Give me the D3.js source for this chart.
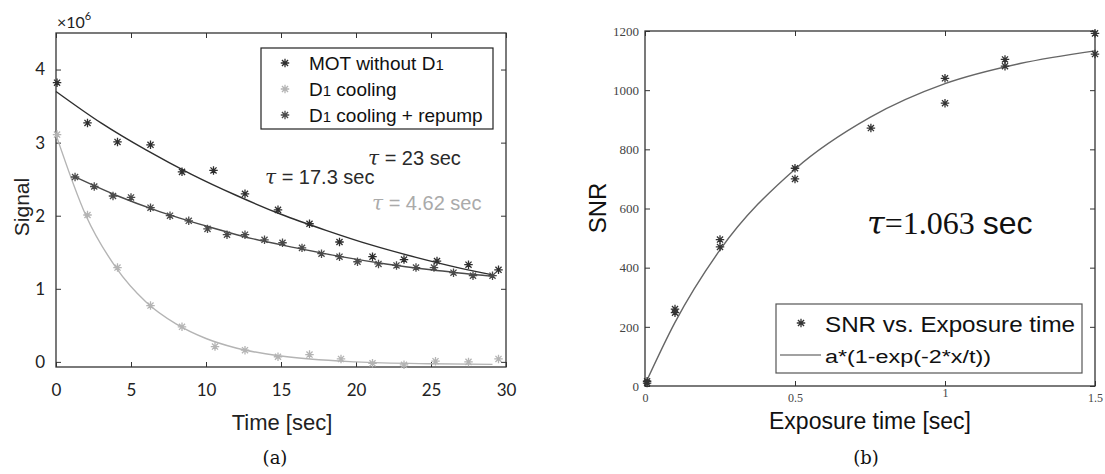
<!DOCTYPE html>
<html>
<head>
<meta charset="utf-8">
<script src="https://cdn.jsdelivr.net/npm/d3@7"></script>
<style>
body { margin: 0; background: #fff; }
</style>
</head>
<body>
<svg width="1105" height="474"></svg>
<script>
// ---------- panel (a): signal (x1e6) vs time ----------
const motT   = [0.07, 2.1, 4.1, 6.3, 8.4, 10.5, 12.6, 14.8, 16.9, 18.9, 21.1, 23.2, 25.4, 27.5, 29.5];
const motS   = [3.82, 3.27, 3.01, 2.97, 2.60, 2.62, 2.30, 2.08, 1.89, 1.64, 1.44, 1.40, 1.38, 1.33, 1.26];
const d1T    = [0.07, 2.1, 4.1, 6.3, 8.4, 10.6, 12.6, 14.8, 16.9, 19.0, 21.1, 23.2, 25.3, 27.5, 29.5];
const d1S    = [3.11, 2.01, 1.29, 0.77, 0.48, 0.21, 0.16, 0.07, 0.10, 0.04, -0.02, -0.04, 0.01, 0.0, 0.04];
const repT   = [1.27, 2.55, 3.8, 5.0, 6.3, 7.6, 8.85, 10.1, 11.4, 12.6, 13.9, 15.1, 16.4, 17.7, 18.9, 20.1, 21.5, 22.7, 24.0, 25.2, 26.5, 27.8, 29.1];
const repS   = [2.53, 2.40, 2.27, 2.25, 2.11, 2.00, 1.93, 1.82, 1.74, 1.74, 1.67, 1.63, 1.56, 1.48, 1.44, 1.37, 1.34, 1.32, 1.29, 1.29, 1.22, 1.18, 1.18];

// fitted curves
const motFitT = [0, 3, 6, 9, 12, 15, 18, 21, 24, 27, 29.1];
const motFitS = [3.70, 3.27, 2.90, 2.57, 2.28, 2.02, 1.80, 1.60, 1.43, 1.28, 1.19];
const d1FitT  = [0, 2, 4, 6, 8, 10, 12, 15, 20, 25, 29.1];
const d1FitS  = [3.11, 2.00, 1.29, 0.82, 0.52, 0.32, 0.19, 0.08, 0.0, -0.026, -0.034];
const repFitT = [1.27, 4, 7, 10, 13, 16, 19, 22, 25, 29.1];
const repFitS = [2.53, 2.28, 2.05, 1.86, 1.69, 1.56, 1.44, 1.34, 1.26, 1.17];

const aXTicks = [0, 5, 10, 15, 20, 25, 30];
const aYTicks = [0, 1, 2, 3, 4];
const aSeries = ["MOT without D1", "D1 cooling", "D1 cooling + repump"];
const aTau    = ["23", "17.3", "4.62"];

// ---------- panel (b): SNR vs exposure time ----------
const snrX = [0.007, 0.007, 0.1, 0.1, 0.25, 0.25, 0.5, 0.5, 0.753, 1.0, 1.0, 1.2, 1.2, 1.5, 1.5];
const snrY = [10, 16, 260, 248, 495, 470, 736, 700, 872, 1040, 956, 1104, 1081, 1192, 1122];
const fitX = [0, 0.1, 0.25, 0.5, 0.75, 1.0, 1.25, 1.5];
const fitY = [5, 215, 460, 733, 908, 1022, 1090, 1133];
const bXTicks = [0, 0.5, 1, 1.5];
const bYTicks = [0, 200, 400, 600, 800, 1000, 1200];

const svg = d3.select("svg");
const sans = "'Liberation Sans', Arial, sans-serif";
const tickFont = "Lato, 'Open Sans', sans-serif";
const serif = "'DejaVu Serif', 'Liberation Serif', serif";

// MATLAB-like 8-point asterisk
const star = {
  draw(ctx, size) {
    const r = Math.sqrt(size) / 2, d = r * 0.72;
    ctx.moveTo(-r, 0); ctx.lineTo(r, 0);
    ctx.moveTo(0, -r); ctx.lineTo(0, r);
    ctx.moveTo(-d, -d); ctx.lineTo(d, d);
    ctx.moveTo(-d, d); ctx.lineTo(d, -d);
  }
};
const starPath = d3.symbol().type(star).size(72)();

// ================= panel (a) =================
const xa = d3.scaleLinear().domain([0, 30]).range([56, 506]);
const ya = d3.scaleLinear().domain([-0.07, 4.5]).range([367, 33]);
const ga = svg.append("g");

const styleAxis = (sel, font, size, color) => {
  sel.select(".domain").remove();
  sel.selectAll("line").attr("stroke", "#333");
  sel.selectAll("text").attr("font-family", font).attr("font-size", size).attr("fill", color);
};

ga.append("g").attr("transform", `translate(0,${ya.range()[0]})`)
  .call(d3.axisBottom(xa).tickValues(aXTicks).tickSize(-5).tickPadding(17).tickFormat(d3.format("d")))
  .call(styleAxis, tickFont, 17, "#222");
ga.append("g").attr("transform", `translate(0,${ya.range()[1]})`)
  .call(d3.axisTop(xa).tickValues(aXTicks).tickSize(-5).tickFormat(""))
  .call(styleAxis, tickFont, 17, "#222");
ga.append("g").attr("transform", `translate(${xa.range()[0]},0)`)
  .call(d3.axisLeft(ya).tickValues(aYTicks).tickSize(-5).tickPadding(11).tickFormat(d3.format("d")))
  .call(styleAxis, tickFont, 17, "#222");
ga.append("g").attr("transform", `translate(${xa.range()[1]},0)`)
  .call(d3.axisRight(ya).tickValues(aYTicks).tickSize(-5).tickFormat(""))
  .call(styleAxis, tickFont, 17, "#222");

ga.append("rect")
  .attr("x", xa.range()[0]).attr("y", ya.range()[1])
  .attr("width", xa.range()[1] - xa.range()[0]).attr("height", ya.range()[0] - ya.range()[1])
  .attr("fill", "none").attr("stroke", "#333").attr("stroke-width", 1.3);

const aColors = ["#2e2e2e", "#b4b4b4", "#4a4a4a"];
const lineA = d3.line().x((d) => xa(d[0])).y((d) => ya(d[1])).curve(d3.curveMonotoneX);

const fitsA = [d3.zip(motFitT, motFitS), d3.zip(d1FitT, d1FitS), d3.zip(repFitT, repFitS)];
const ptsA  = [d3.zip(motT, motS), d3.zip(d1T, d1S), d3.zip(repT, repS)];

fitsA.forEach((f, i) => {
  ga.append("path").attr("d", lineA(f))
    .attr("fill", "none").attr("stroke", aColors[i]).attr("stroke-width", 1.4);
});
ptsA.forEach((p, i) => {
  ga.append("g").selectAll("path").data(p).enter().append("path")
    .attr("d", starPath)
    .attr("transform", (d) => `translate(${xa(d[0])},${ya(d[1])})`)
    .attr("fill", "none").attr("stroke", aColors[i]).attr("stroke-width", 1.3);
});

// x10^6 exponent
const ex = ga.append("text").attr("x", 57).attr("y", 28)
  .attr("font-family", tickFont).attr("font-size", 16).attr("fill", "#222");
ex.append("tspan").text("\u00d710");
ex.append("tspan").attr("dy", -8).attr("font-size", 11).text("6");

// legend (a)
const legA = ga.append("g");
legA.append("rect").attr("x", 261).attr("y", 48).attr("width", 232).attr("height", 81)
  .attr("fill", "#fff").attr("stroke", "#222").attr("stroke-width", 1.2);
aSeries.forEach((name, i) => {
  const y = 63 + i * 26;
  legA.append("path").attr("d", starPath).attr("transform", `translate(285,${y})`)
    .attr("fill", "none").attr("stroke", aColors[i]).attr("stroke-width", 1.3);
  const t = legA.append("text").attr("x", 309).attr("y", y + 7)
    .attr("font-family", sans).attr("font-size", 19).attr("fill", "#111");
  const parts = name.split("D1");
  parts.forEach((p, k) => {
    if (k > 0) {
      t.append("tspan").text("D");
      t.append("tspan").attr("font-size", 15).text("1");
    }
    t.append("tspan").text(p);
  });
});

// tau labels
const tauPos = [[368, 165, "#2a2a2a"], [265, 184, "#2a2a2a"], [372, 210, "#aaaaaa"]];
aTau.forEach((v, i) => {
  const t = ga.append("text").attr("x", tauPos[i][0]).attr("y", tauPos[i][1])
    .attr("font-family", sans).attr("font-size", 20).attr("fill", tauPos[i][2]);
  t.append("tspan").attr("font-family", serif).attr("font-style", "italic").text("\u03c4");
  t.append("tspan").text(` = ${v} sec`);
});

ga.append("text").attr("transform", "translate(29,207) rotate(-90)")
  .attr("text-anchor", "middle").attr("font-family", sans).attr("font-size", 21)
  .attr("fill", "#222").text("Signal");
ga.append("text").attr("x", 282).attr("y", 430).attr("text-anchor", "middle")
  .attr("font-family", sans).attr("font-size", 22).attr("fill", "#222").text("Time [sec]");
ga.append("text").attr("x", 275).attr("y", 464).attr("text-anchor", "middle")
  .attr("font-family", serif).attr("font-size", 18).attr("fill", "#111").text("(a)");

// ================= panel (b) =================
const xb = d3.scaleLinear().domain([0, 1.5]).range([645, 1095]);
const yb = d3.scaleLinear().domain([0, 1200]).range([386, 31]);
const gb = svg.append("g");
const bTickFont = "'Liberation Serif', serif";

gb.append("g").attr("transform", `translate(0,${yb.range()[0]})`)
  .call(d3.axisBottom(xb).tickValues(bXTicks).tickSize(-5).tickPadding(7).tickFormat(d3.format("")))
  .call(styleAxis, bTickFont, 12, "#444")
  .selectAll(".tick").filter((d) => d === 1).select("text").attr("dy", "0.3em");
gb.append("g").attr("transform", `translate(0,${yb.range()[1]})`)
  .call(d3.axisTop(xb).tickValues(bXTicks).tickSize(-5).tickFormat(""))
  .call(styleAxis, bTickFont, 13, "#444");
gb.append("g").attr("transform", `translate(${xb.range()[0]},0)`)
  .call(d3.axisLeft(yb).tickValues(bYTicks).tickSize(-5).tickPadding(6).tickFormat(d3.format("d")))
  .call(styleAxis, bTickFont, 13, "#444");
gb.append("g").attr("transform", `translate(${xb.range()[1]},0)`)
  .call(d3.axisRight(yb).tickValues(bYTicks).tickSize(-5).tickFormat(""))
  .call(styleAxis, bTickFont, 13, "#444");

gb.append("rect")
  .attr("x", xb.range()[0]).attr("y", yb.range()[1])
  .attr("width", xb.range()[1] - xb.range()[0]).attr("height", yb.range()[0] - yb.range()[1])
  .attr("fill", "none").attr("stroke", "#333").attr("stroke-width", 1.3);

const lineB = d3.line().x((d) => xb(d[0])).y((d) => yb(d[1])).curve(d3.curveMonotoneX);
gb.append("path").attr("d", lineB(d3.zip(fitX, fitY)))
  .attr("fill", "none").attr("stroke", "#666").attr("stroke-width", 1.4);
gb.append("g").selectAll("path").data(d3.zip(snrX, snrY)).enter().append("path")
  .attr("d", starPath)
  .attr("transform", (d) => `translate(${xb(d[0])},${yb(d[1])})`)
  .attr("fill", "none").attr("stroke", "#333").attr("stroke-width", 1.3);

// tau annotation
const tb = gb.append("text").attr("x", 867).attr("y", 234).attr("font-size", 32).attr("fill", "#111");
tb.append("tspan").attr("font-family", serif).attr("font-style", "italic").text("\u03c4");
tb.append("tspan").attr("font-family", bTickFont).text("=1.063 ");
tb.append("tspan").attr("font-family", sans).text("sec");

// legend (b)
const legB = gb.append("g");
legB.append("rect").attr("x", 776).attr("y", 304).attr("width", 306).attr("height", 69)
  .attr("fill", "#fff").attr("stroke", "#555").attr("stroke-width", 1.2);
legB.append("path").attr("d", starPath).attr("transform", "translate(801,323)")
  .attr("fill", "none").attr("stroke", "#333").attr("stroke-width", 1.3);
legB.append("text").attr("x", 825).attr("y", 332).attr("font-family", sans)
  .attr("font-size", 22).attr("textLength", 250).attr("lengthAdjust", "spacingAndGlyphs")
  .attr("fill", "#111").text("SNR vs. Exposure time");
legB.append("line").attr("x1", 780).attr("x2", 821).attr("y1", 355).attr("y2", 355)
  .attr("stroke", "#444").attr("stroke-width", 1.2);
legB.append("text").attr("x", 825).attr("y", 363).attr("font-family", sans)
  .attr("font-size", 18).attr("textLength", 166).attr("lengthAdjust", "spacingAndGlyphs")
  .attr("fill", "#111").text("a*(1-exp(-2*x/t))");

gb.append("text").attr("transform", "translate(606,208) rotate(-90)")
  .attr("text-anchor", "middle").attr("font-family", sans).attr("font-size", 24)
  .attr("fill", "#111").text("SNR");
gb.append("text").attr("x", 870).attr("y", 429).attr("text-anchor", "middle")
  .attr("font-family", sans).attr("font-size", 23).attr("fill", "#111").text("Exposure time [sec]");
gb.append("text").attr("x", 866).attr("y", 464).attr("text-anchor", "middle")
  .attr("font-family", serif).attr("font-size", 18).attr("fill", "#111").text("(b)");
</script>
</body>
</html>
